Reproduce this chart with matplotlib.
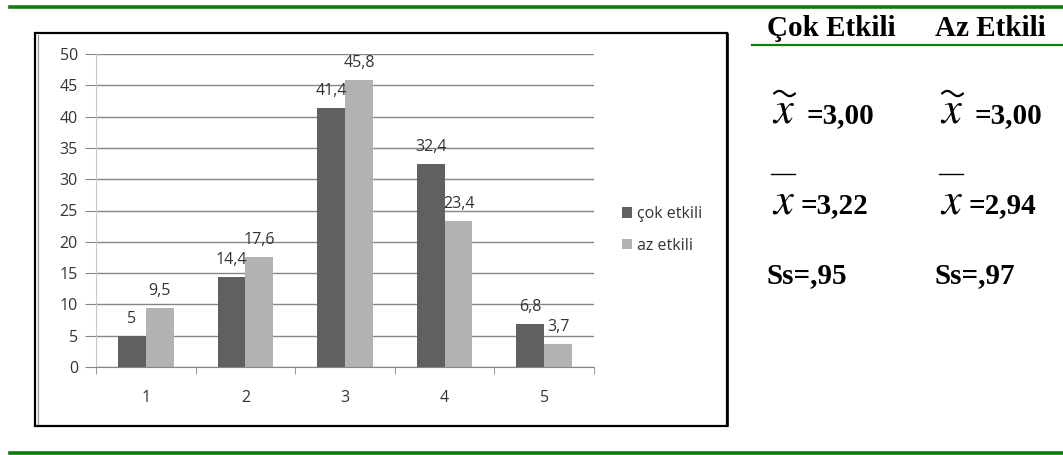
import numpy as np
import matplotlib.pyplot as plt
from matplotlib.patches import Rectangle
from matplotlib.lines import Line2D

W, H = 1063, 455

# answer distribution (%) per scale point
categories = [1, 2, 3, 4, 5]
cok_etkili = [5, 14.4, 41.4, 32.4, 6.8]
az_etkili = [9.5, 17.6, 45.8, 23.4, 3.7]
series_names = ["çok etkili", "az etkili"]
y_ticks = [0, 5, 10, 15, 20, 25, 30, 35, 40, 45, 50]

# summary statistics shown beside the chart
col_titles = ["Çok Etkili", "Az Etkili"]
medians = ["3,00", "3,00"]
means = ["3,22", "2,94"]
std_devs = [",95", ",97"]

DARK = "#606060"
LIGHT = "#b2b2b2"
GRID = "#868686"
GREEN = "#0a7d0a"
TXT = "#333333"


def fx(x):
    return x / W


def fy(y):
    return 1 - y / H


def fmt(v):
    s = f"{v:g}"
    return s.replace(".", ",")


def tilde_accent(fig, x0, x1, yc, amp=2.6):
    """Wide wavy accent drawn over a symbol (pixel coords, y down)."""
    t = np.linspace(0, 1, 40)
    xs = x0 + (x1 - x0) * t
    ys = yc - amp * np.sin(2 * np.pi * t)
    fig.add_artist(Line2D([fx(v) for v in xs], [fy(v) for v in ys],
                          color="black", lw=1.6, solid_capstyle="round"))


fig = plt.figure(figsize=(W / 100, H / 100), dpi=100)

# green rules across the page
fig.add_artist(Line2D([fx(10), 1], [fy(6.5), fy(6.5)], color=GREEN, lw=2.6))
fig.add_artist(Line2D([fx(10), 1], [fy(452.5), fy(452.5)], color=GREEN, lw=2.6))
fig.add_artist(Line2D([fx(752), 1], [fy(45), fy(45)], color=GREEN, lw=1.6))

# chart frame (double line on the left side)
fig.add_artist(Rectangle((fx(34.5), fy(426)), fx(727) - fx(34.5), fy(33) - fy(426),
                         fill=False, edgecolor="black", lw=1.6))
fig.add_artist(Line2D([fx(727.5), fx(727.5)], [fy(34), fy(426)], color="black", lw=1.2))
fig.add_artist(Line2D([fx(37.5), fx(37.5)], [fy(35), fy(424)], color="#9a9a9a", lw=0.9))

ax = fig.add_axes([fx(96), fy(367), fx(594) - fx(96), fy(54) - fy(367)])
font = "Open Sans"
fsize = 11.5
width = 0.28
xs = list(range(len(categories)))
b1 = ax.bar([x + 1 - width / 2 for x in xs], cok_etkili, width, color=DARK, zorder=3,
            label=series_names[0])
b2 = ax.bar([x + 1 + width / 2 for x in xs], az_etkili, width, color=LIGHT, zorder=3,
            label=series_names[1])

for bars, vals in ((b1, cok_etkili), (b2, az_etkili)):
    for rect, v in zip(bars, vals):
        ax.annotate(fmt(v), (rect.get_x() + rect.get_width() / 2, v),
                    xytext=(0, 12.2), textcoords="offset points",
                    ha="center", va="center", fontsize=fsize, family=font,
                    color=TXT, zorder=4)

ax.set_xlim(0.5, 5.5)
ax.set_ylim(0, 50)
ax.set_yticks(y_ticks)
ax.set_yticklabels([str(t) for t in y_ticks])
ax.set_xticks([1, 2, 3, 4, 5])
ax.set_xticklabels([str(c) for c in categories])
ax.set_xticks([0.5, 1.5, 2.5, 3.5, 4.5, 5.5], minor=True)
ax.tick_params(axis="x", which="major", length=0, pad=16.5)
ax.tick_params(axis="x", which="minor", length=5, color=GRID, direction="out")
ax.tick_params(axis="y", length=8, color=GRID, pad=5)
for lab in ax.get_xticklabels() + ax.get_yticklabels():
    lab.set_family(font)
    lab.set_fontsize(fsize)
    lab.set_color(TXT)

ax.yaxis.grid(True, color=GRID, lw=1, zorder=0)
for side in ("top", "right"):
    ax.spines[side].set_visible(False)
ax.spines["left"].set_color("#c8c8c8")
ax.spines["bottom"].set_color(GRID)
ax.spines["bottom"].set_zorder(4)

leg = ax.legend(loc="center left", bbox_to_anchor=(fx(622), fy(230)),
                bbox_transform=fig.transFigure, frameon=False,
                prop={"family": font, "size": fsize}, handlelength=0.65,
                handleheight=0.65, handletextpad=0.3, labelspacing=0.95,
                borderpad=0, borderaxespad=0)
for t in leg.get_texts():
    t.set_color(TXT)

# statistics table on the right
serif = "Liberation Serif"
col_x = [767, 935]
for i, cx in enumerate(col_x):
    fig.text(fx(cx), fy(36), col_titles[i], family=serif, weight="bold",
             fontsize=21, va="baseline", ha="left")
    # median: x with a wide tilde above it
    tilde_accent(fig, cx + 7, cx + 28, 93.5)
    fig.text(fx(cx + 5), fy(123), r"$x$", fontsize=32, va="baseline",
             ha="left", math_fontfamily="stix")
    fig.text(fx(cx + 39), fy(123), "=" + medians[i], family=serif, weight="bold",
             fontsize=21, va="baseline", ha="left")
    # mean: x with a bar set high above it
    fig.add_artist(Line2D([fx(cx + 4), fx(cx + 28)], [fy(174), fy(174)],
                          color="black", lw=1))
    fig.text(fx(cx + 5), fy(213), r"$x$", fontsize=32, va="baseline", ha="left",
             math_fontfamily="stix")
    fig.text(fx(cx + 34), fy(213), "=" + means[i], family=serif, weight="bold",
             fontsize=21, va="baseline", ha="left")
    # standard deviation
    fig.text(fx(cx), fy(283), "Ss=" + std_devs[i], family=serif, weight="bold",
             fontsize=21, va="baseline", ha="left")

fig.savefig("out.png", dpi=100)
